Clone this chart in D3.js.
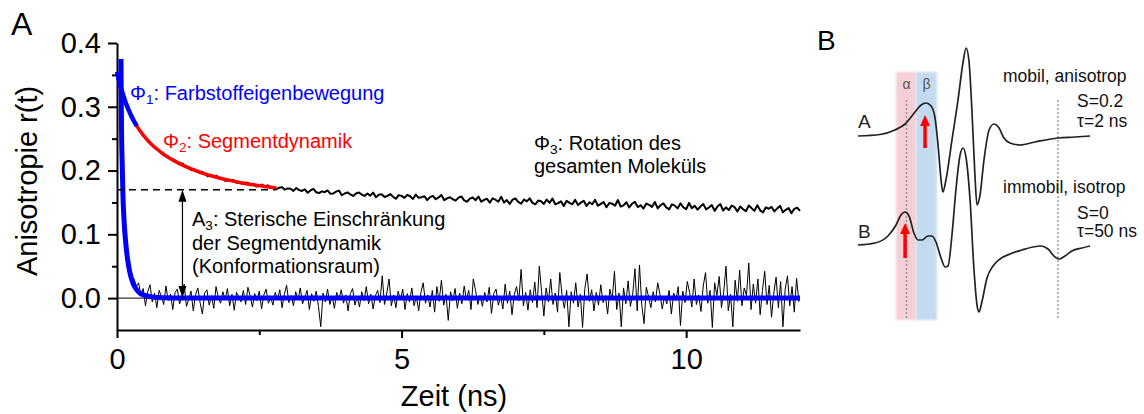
<!DOCTYPE html>
<html>
<head>
<meta charset="utf-8">
<script src="https://cdn.jsdelivr.net/npm/d3@7"></script>
<style>
  html, body { margin: 0; padding: 0; background: #fff; }
  svg { display: block; font-family: "Liberation Sans", Arial, sans-serif; }
</style>
</head>
<body>
<svg id="chart" width="1144" height="414"></svg>
<script>
// ---------- Panel A data ----------
const yMajorTicks = [0, 0.1, 0.2, 0.3, 0.4];
const yMinorTicks = [0.05, 0.15, 0.25, 0.35];
const xMajorTicks = [0, 5, 10];
const xMinorTicks = [2.5, 7.5];

// labelled protein anisotropy, sampled every 0.05 ns from 0 ns
const upperStep = 0.05;
const upperTrace = [
  0.355, 0.336, 0.321, 0.307, 0.296, 0.286, 0.277, 0.270, 0.263, 0.256,
  0.252, 0.246, 0.242, 0.237, 0.234, 0.231, 0.226, 0.224, 0.221, 0.218,
  0.217, 0.212, 0.211, 0.211, 0.206, 0.205, 0.201, 0.202, 0.200, 0.197,
  0.198, 0.194, 0.191, 0.193, 0.191, 0.192, 0.187, 0.188, 0.184, 0.185,
  0.185, 0.185, 0.181, 0.182, 0.179, 0.181, 0.181, 0.177, 0.179, 0.175,
  0.176, 0.178, 0.174, 0.177, 0.173, 0.173, 0.171, 0.173, 0.174, 0.170,
  0.172, 0.1715, 0.1681, 0.1727, 0.1693, 0.1680, 0.1706, 0.1652, 0.1688, 0.1714,
  0.1660, 0.1647, 0.1674, 0.1661, 0.1688, 0.1635, 0.1642, 0.1669, 0.1686, 0.1613,
  0.1640, 0.1657, 0.1625, 0.1602, 0.1640, 0.1657, 0.1624, 0.1602, 0.1639, 0.1607,
  0.1654, 0.1582, 0.1620, 0.1628, 0.1586, 0.1604, 0.1631, 0.1589, 0.1557, 0.1615,
  0.1603, 0.1571, 0.1619, 0.1597, 0.1555, 0.1624, 0.1572, 0.1580, 0.1598, 0.1536,
  0.1584, 0.1602, 0.1550, 0.1579, 0.1617, 0.1535, 0.1563, 0.1581, 0.1550, 0.1528,
  0.1576, 0.1594, 0.1532, 0.1511, 0.1559, 0.1577, 0.1535, 0.1593, 0.1512, 0.1540,
  0.1558, 0.1496, 0.1565, 0.1543, 0.1511, 0.1590, 0.1498, 0.1537, 0.1475, 0.1544,
  0.1562, 0.1510, 0.1479, 0.1547, 0.1516, 0.1564, 0.1493, 0.1471, 0.1530, 0.1518,
  0.1477, 0.1545, 0.1494, 0.1562, 0.1471, 0.1489, 0.1518, 0.1446, 0.1525, 0.1493,
  0.1472, 0.1540, 0.1459, 0.1497, 0.1526, 0.1444, 0.1503, 0.1471, 0.1540, 0.1448,
  0.1477, 0.1505, 0.1424, 0.1492, 0.1481, 0.1449, 0.1538, 0.1436, 0.1455, 0.1503,
  0.1422, 0.1480, 0.1509, 0.1427, 0.1456, 0.1404, 0.1483, 0.1461, 0.1430, 0.1508,
  0.1407, 0.1456, 0.1484, 0.1423, 0.1391, 0.1470, 0.1449, 0.1407, 0.1486, 0.1424,
  0.1393, 0.1491, 0.1410, 0.1448, 0.1387, 0.1435, 0.1474, 0.1392, 0.1421, 0.1459,
  0.1368, 0.1437, 0.1475, 0.1374, 0.1422, 0.1381, 0.1450, 0.1428, 0.1357, 0.1435,
  0.1394, 0.1363, 0.1451, 0.1410, 0.1368, 0.1457, 0.1376, 0.1344, 0.1423, 0.1401,
  0.1430, 0.1359, 0.1407, 0.1446, 0.1345, 0.1384, 0.1412, 0.1331, 0.1400, 0.1418,
  0.1367
];

// free dye anisotropy, sampled every 0.04 ns from 0.30 ns
const zeroStart = 0.30;
const zeroStep = 0.04;
const zeroTrace = [
  0.030, 0.018, 0.024, 0.004, 0.015, -0.012, 0.010, 0.021, -0.006, 0.008,
  -0.015, 0.012, 0.003, -0.010, 0.019, -0.004, 0.006, -0.018, 0.009, 0.014,
  -0.009, 0.002, 0.022, -0.013, -0.002, 0.011, -0.020, 0.005, 0.016, -0.007,
  -0.025, 0.008, 0.013, -0.011, 0.004, -0.016, 0.018, 0.001, -0.008, 0.010,
  -0.003, 0.015, -0.012, 0.006, -0.019, 0.009, 0.002, -0.006, 0.012, -0.010,
  0.017, 0.003, -0.014, 0.007, -0.004, 0.011, -0.017, 0.005, 0.014, -0.008,
  0.001, -0.011, 0.009, -0.002, 0.013, -0.015, 0.006, 0.020, -0.007, 0.004,
  -0.012, 0.010, -0.003, 0.016, -0.009, 0.002, 0.012, -0.018, 0.007, -0.005,
  0.011, -0.013, -0.045, 0.008, -0.006, 0.014, -0.010, 0.003, -0.016, 0.009,
  -0.002, 0.013, -0.008, 0.005, -0.020, 0.007, 0.015, -0.011, 0.002, -0.014,
  0.010, -0.004, 0.018, -0.009, 0.006, -0.017, 0.004, 0.012, -0.007, 0.035,
  -0.010, 0.008, 0.030, -0.012, 0.005, -0.015, 0.011, -0.003, 0.014, -0.018,
  0.007, -0.006, 0.016, -0.012, 0.003, -0.020, 0.009, 0.024, -0.008, 0.005,
  -0.014, 0.012, -0.022, 0.018, -0.005, 0.028, -0.011, 0.006, -0.035, 0.010,
  -0.004, 0.015, -0.016, 0.008, -0.009, 0.019, -0.003, 0.012, -0.018, 0.030,
  0.012, -0.010, 0.004, -0.013, 0.009, -0.006, 0.017, -0.024, 0.007, 0.014,
  -0.011, 0.003, -0.017, 0.022, -0.008, 0.011, -0.026, 0.006, 0.018, -0.004,
  0.045, -0.012, 0.009, -0.019, 0.013, -0.007, 0.025, -0.015, 0.050, 0.010,
  -0.028, 0.016, -0.006, 0.030, -0.010, 0.008, -0.022, 0.040, 0.004, -0.016,
  0.012, -0.045, 0.010, -0.008, 0.024, -0.014, 0.006, -0.046, 0.015, 0.038,
  -0.005, 0.013, -0.020, 0.009, -0.011, 0.021, -0.007, 0.004, -0.025, 0.014,
  -0.003, 0.042, -0.018, 0.008, -0.045, 0.016, -0.009, 0.027, -0.013, 0.005,
  0.046, -0.020, 0.052, -0.011, -0.040, 0.017, 0.002, -0.015, 0.010, -0.006,
  0.024, 0.006, -0.017, 0.003, -0.009, 0.012, -0.025, 0.008, -0.004, 0.018,
  -0.043, 0.011, -0.007, 0.026, 0.009, -0.014, 0.030, -0.010, 0.005, -0.021,
  0.019, 0.040, -0.008, 0.012, -0.046, 0.024, 0.004, 0.034, -0.015, 0.010,
  0.050, -0.020, 0.006, -0.045, 0.028, -0.005, 0.044, -0.012, 0.016, 0.004,
  0.055, -0.018, 0.022, -0.008, 0.030, -0.026, 0.012, 0.042, -0.010, 0.020,
  -0.030, 0.008, 0.033, -0.015, 0.026, -0.045, 0.014, 0.035, -0.012, 0.018,
  -0.022, 0.031, -0.006
];

// fits [t (ns), r]
const fitDye = [
  [0.07, 0.375], [0.075, 0.31], [0.08, 0.26], [0.09, 0.215], [0.105, 0.16],
  [0.125, 0.12], [0.15, 0.09], [0.18, 0.065], [0.22, 0.043], [0.27, 0.026],
  [0.33, 0.015], [0.4, 0.008], [0.5, 0.004], [0.65, 0.0015], [0.85, 0.0005],
  [1.1, 0], [12, 0]
];
const fitPhi1 = [
  [0, 0.355], [0.05, 0.336], [0.1, 0.321], [0.15, 0.307], [0.2, 0.296],
  [0.25, 0.286], [0.3, 0.277], [0.35, 0.270]
];
const fitPhi2 = [
  [0.35, 0.2696], [0.4, 0.2627], [0.5, 0.2513], [0.6, 0.2417], [0.7, 0.2338],
  [0.8, 0.2268], [0.9, 0.2209], [1.0, 0.2156], [1.2, 0.2065], [1.4, 0.1993],
  [1.6, 0.1933], [1.8, 0.1883], [2.0, 0.1842], [2.2, 0.1806], [2.4, 0.1776],
  [2.6, 0.1751], [2.8, 0.1728]
];
const plateau = { r: 0.17, tEnd: 2.8, tArrow: 1.15 };

// ---------- Panel B data: [field (a.u.), amplitude] ----------
const spectrumA = [
  [0, 0], [9.5, 0.015], [15.9, 0.06], [20.3, 0.12], [24.6, 0.24], [27.2, 0.31],
  [29.3, 0.33], [31.5, 0.30], [33.2, 0.18], [34.5, -0.09], [35.8, -0.44],
  [36.6, -0.56], [37.9, -0.44], [40.5, -0.04], [43.1, 0.36], [45.3, 0.74],
  [46.6, 0.88], [47.8, 0.76], [49.1, 0.26], [50.4, -0.39], [51.3, -0.69],
  [52.6, -0.59], [54.3, -0.24], [56.5, 0.06], [58.6, 0.12], [60.8, 0.08],
  [62.9, -0.02], [65.5, -0.07], [69.8, -0.09], [76.3, -0.06], [86.2, -0.02],
  [93.5, -0.01], [100, 0]
];
const spectrumB = [
  [0, 0], [7.3, 0.02], [12.9, 0.09], [16.4, 0.2], [18.5, 0.30], [20.3, 0.33],
  [22, 0.29], [24.1, 0.12], [25.9, 0.05], [27.6, 0.05], [30.2, 0.09],
  [31.9, 0.09], [33.6, 0.03], [35.8, -0.13], [37.5, -0.22], [38.8, -0.21],
  [40.5, 0.10], [42.2, 0.55], [44, 0.90], [45.3, 0.97], [46.6, 0.87],
  [48.3, 0.45], [50, -0.25], [51.3, -0.60], [52.2, -0.67], [53.4, -0.57],
  [55.6, -0.33], [58.2, -0.21], [61.2, -0.14], [65.5, -0.09], [70.7, -0.05],
  [75.4, -0.02], [78.9, -0.01], [81.9, -0.04], [84.9, -0.12], [86.6, -0.14],
  [89.2, -0.11], [92.2, -0.06], [96.6, -0.03], [100, -0.01]
];
const offsetB = -1.09;
const bandAlpha = [16.4, 25];
const bandBeta = [25, 34];
const bandSpan = [0.64, -1.84];
const dottedFields = [20.9, 86.2];
const arrowA = { f: 28.9, from: -0.12, to: 0.21 };
const arrowB = { f: 20.3, from: -0.13, to: 0.22 };

const FONT_TICK = 29;
const FONT_NOTE = 20;
const BLUE = "#0000ff";
const RED = "#ff0000";

const svg = d3.select("#chart");

// ---------- Panel A ----------
const x = d3.scaleLinear().domain([0, 12]).range([117, 800]);
const y = d3.scaleLinear().domain([-0.05, 0.4]).range([330, 43]);

function styleAxis(g) {
  g.attr("font-size", FONT_TICK).attr("font-family", null);
  g.selectAll("path, line").attr("stroke", "#000").attr("stroke-width", 2);
  g.selectAll("text").attr("fill", "#000");
}

svg.append("g")
  .attr("transform", `translate(${x(0)},0)`)
  .call(d3.axisLeft(y).tickValues(yMinorTicks).tickSize(5).tickFormat(""))
  .call(styleAxis)
  .call((g) => g.select(".domain").remove());

svg.append("g")
  .attr("transform", `translate(${x(0)},0)`)
  .call(d3.axisLeft(y).tickValues(yMajorTicks).tickSize(9).tickSizeOuter(0)
    .tickPadding(7).tickFormat(d3.format(".1f")))
  .call(styleAxis);

svg.append("g")
  .attr("transform", `translate(0,${y(-0.05)})`)
  .call(d3.axisBottom(x).tickValues(xMinorTicks).tickSize(5).tickFormat(""))
  .call(styleAxis)
  .call((g) => g.select(".domain").remove());

svg.append("g")
  .attr("transform", `translate(0,${y(-0.05)})`)
  .call(d3.axisBottom(x).tickValues(xMajorTicks).tickSize(8).tickSizeOuter(0)
    .tickPadding(10).tickFormat(d3.format("d")))
  .call(styleAxis);

svg.append("text")
  .attr("transform", "translate(37,181) rotate(-90)")
  .attr("text-anchor", "middle")
  .attr("font-size", 29)
  .text("Anisotropie r(t)");

svg.append("text")
  .attr("x", 454).attr("y", 406)
  .attr("text-anchor", "middle")
  .attr("font-size", 29)
  .text("Zeit (ns)");

svg.append("text").attr("x", 11).attr("y", 35).attr("font-size", 32).text("A");

const line = d3.line().x((d) => x(d[0])).y((d) => y(d[1]));
const smooth = d3.line().x((d) => x(d[0])).y((d) => y(d[1])).curve(d3.curveMonotoneX);

// zero line
svg.append("line")
  .attr("x1", x(0)).attr("x2", x(12))
  .attr("y1", y(0)).attr("y2", y(0))
  .attr("stroke", "#000").attr("stroke-width", 1);

svg.append("path")
  .datum(zeroTrace.map((r, i) => [zeroStart + i * zeroStep, r]))
  .attr("d", line)
  .attr("fill", "none").attr("stroke", "#000").attr("stroke-width", 1);

svg.append("path")
  .datum(upperTrace.map((r, i) => [i * upperStep, r]))
  .attr("d", line)
  .attr("fill", "none").attr("stroke", "#000").attr("stroke-width", 2)
  .attr("stroke-linejoin", "round");

svg.append("path").datum(fitDye).attr("d", smooth)
  .attr("fill", "none").attr("stroke", BLUE).attr("stroke-width", 5);
svg.append("path").datum(fitPhi1).attr("d", smooth)
  .attr("fill", "none").attr("stroke", BLUE).attr("stroke-width", 4.5);
svg.append("path").datum(fitPhi2).attr("d", smooth)
  .attr("fill", "none").attr("stroke", RED).attr("stroke-width", 3.5);

// plateau A3
svg.append("line")
  .attr("x1", x(0)).attr("x2", x(plateau.tEnd))
  .attr("y1", y(plateau.r)).attr("y2", y(plateau.r))
  .attr("stroke", "#000").attr("stroke-width", 1.4)
  .attr("stroke-dasharray", "7,5");

function arrowHead(g, tipX, tipY, dir, len, halfW, color) {
  // dir -1: pointing up, +1: pointing down
  g.append("path")
    .attr("d", `M${tipX},${tipY}L${tipX - halfW},${tipY - dir * len}L${tipX + halfW},${tipY - dir * len}Z`)
    .attr("fill", color);
}

const ax = x(plateau.tArrow);
svg.append("line")
  .attr("x1", ax).attr("x2", ax)
  .attr("y1", y(plateau.r) + 6).attr("y2", y(0) - 6)
  .attr("stroke", "#000").attr("stroke-width", 1.2);
arrowHead(svg, ax, y(plateau.r), -1, 12, 4, "#000");
arrowHead(svg, ax, y(0), 1, 12, 4, "#000");

function subLabel(px, py, main, sub, rest, color) {
  const t = svg.append("text")
    .attr("x", px).attr("y", py)
    .attr("font-size", FONT_NOTE).attr("fill", color);
  t.append("tspan").text(main);
  t.append("tspan").attr("font-size", FONT_NOTE * 0.68).attr("dy", 4).text(sub);
  t.append("tspan").attr("dy", -4).text(rest);
}

function plainLabel(px, py, txt, size, color) {
  svg.append("text")
    .attr("x", px).attr("y", py)
    .attr("font-size", size).attr("fill", color)
    .text(txt);
}

subLabel(130, 100, "Φ", "1", ": Farbstoffeigenbewegung", BLUE);
subLabel(163, 148, "Φ", "2", ": Segmentdynamik", RED);
subLabel(534, 150, "Φ", "3", ": Rotation des", "#000");
plainLabel(534, 173, "gesamten Moleküls", FONT_NOTE, "#000");
subLabel(192, 226, "A", "3", ": Sterische Einschränkung", "#000");
plainLabel(192, 250, "der Segmentdynamik", FONT_NOTE, "#000");
plainLabel(192, 273, "(Konformationsraum)", FONT_NOTE, "#000");

// ---------- Panel B ----------
const xB = d3.scaleLinear().domain([0, 100]).range([858, 1090]);
const yB = d3.scaleLinear().domain([0, 1]).range([136, 36]);

plainLabel(817, 50, "B", 28, "#000");

const defs = svg.append("defs");
defs.append("filter").attr("id", "soft")
  .attr("x", "-20%").attr("width", "140%")
  .append("feGaussianBlur").attr("stdDeviation", 1.2);

const panelB = svg.append("g");

panelB.append("rect")
  .attr("x", xB(bandAlpha[0])).attr("width", xB(bandAlpha[1]) - xB(bandAlpha[0]))
  .attr("y", yB(bandSpan[0])).attr("height", yB(bandSpan[1]) - yB(bandSpan[0]))
  .attr("fill", "#f5cfd5").attr("filter", "url(#soft)");
panelB.append("rect")
  .attr("x", xB(bandBeta[0])).attr("width", xB(bandBeta[1]) - xB(bandBeta[0]))
  .attr("y", yB(bandSpan[0])).attr("height", yB(bandSpan[1]) - yB(bandSpan[0]))
  .attr("fill", "#c4dbef").attr("filter", "url(#soft)");

panelB.selectAll(".dotted")
  .data(dottedFields)
  .enter().append("line")
  .attr("x1", (d) => xB(d)).attr("x2", (d) => xB(d))
  .attr("y1", yB(0.36)).attr("y2", yB(bandSpan[1]))
  .attr("stroke", "#9a9a9a").attr("stroke-width", 1.5)
  .attr("stroke-dasharray", "2,2");

panelB.append("text").attr("x", xB(20.9)).attr("y", 89)
  .attr("text-anchor", "middle").attr("font-size", 14).attr("fill", "#555").text("α");
panelB.append("text").attr("x", xB(29.5)).attr("y", 89)
  .attr("text-anchor", "middle").attr("font-size", 14).attr("fill", "#555").text("β");

const specLine = d3.line().x((d) => xB(d[0])).y((d) => yB(d[1])).curve(d3.curveMonotoneX);

panelB.append("path").datum(spectrumA).attr("d", specLine)
  .attr("fill", "none").attr("stroke", "#222").attr("stroke-width", 1.7);
panelB.append("path").datum(spectrumB.map((d) => [d[0], d[1] + offsetB])).attr("d", specLine)
  .attr("fill", "none").attr("stroke", "#222").attr("stroke-width", 1.7);

function redArrow(a, offset) {
  const px = xB(a.f);
  const tip = yB(a.to + offset);
  panelB.append("line")
    .attr("x1", px).attr("x2", px)
    .attr("y1", yB(a.from + offset)).attr("y2", tip + 9)
    .attr("stroke", RED).attr("stroke-width", 3.5);
  arrowHead(panelB, px, tip, -1, 11, 5, RED);
}
redArrow(arrowA, 0);
redArrow(arrowB, offsetB);

plainLabel(858, 128, "A", 19, "#222");
plainLabel(858, 238, "B", 19, "#222");

plainLabel(1003, 82, "mobil, anisotrop", 17.5, "#111");
plainLabel(1077, 107, "S=0.2", 17.5, "#111");
plainLabel(1077, 127, "τ=2 ns", 17.5, "#111");
plainLabel(1003, 193, "immobil, isotrop", 17.5, "#111");
plainLabel(1077, 219, "S=0", 17.5, "#111");
plainLabel(1077, 237, "τ=50 ns", 17.5, "#111");
</script>
</body>
</html>
